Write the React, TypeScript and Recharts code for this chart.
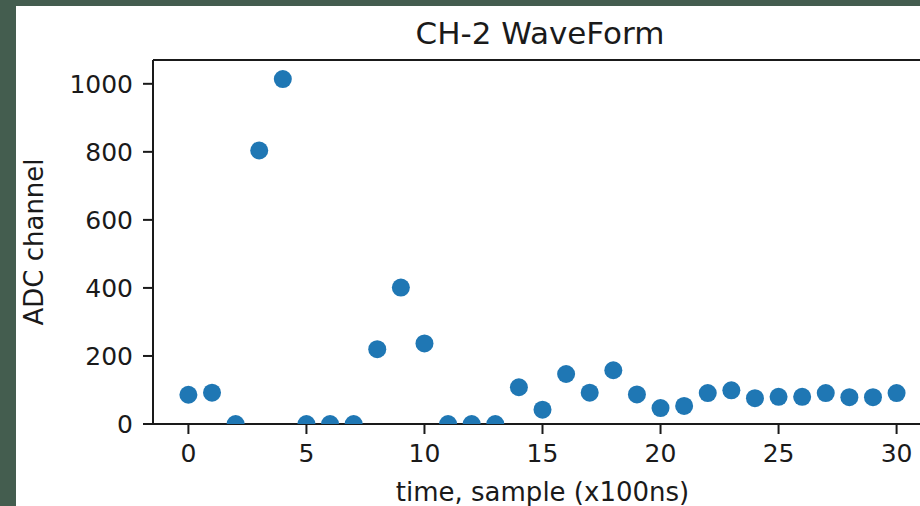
import { ScatterChart, Scatter, XAxis, YAxis, ReferenceLine } from 'recharts';

const samples = [
  0, 1, 2, 3, 4, 5, 6, 7, 8, 9, 10, 11, 12, 13, 14, 15,
  16, 17, 18, 19, 20, 21, 22, 23, 24, 25, 26, 27, 28, 29, 30,
];
const adcValues = [
  86, 92, 0, 804, 1014, 0, 0, 0, 220, 401, 237, 0, 0, 0, 108, 42,
  147, 92, 158, 87, 47, 53, 91, 99, 76, 80, 80, 91, 79, 79, 91,
];
const xTicks = [0, 5, 10, 15, 20, 25, 30];
const yTicks = [0, 200, 400, 600, 800, 1000];
const xDomain = [-1.5, 31.5];
const yDomain = [0, 1070];

const waveData = samples.map((t, i) => ({ t, adc: adcValues[i] }));

const font = "'DejaVu Sans', sans-serif";
const ink = '#1a1a1a';
const blue = '#1f77b4';

const Dot = (props: any) => <circle cx={props.cx} cy={props.cy} r={9} fill={blue} />;

export default function App() {
  return (
    <div
      style={{
        position: 'absolute',
        left: 0,
        top: 0,
        width: 920,
        height: 506,
        background: '#445d4f',
        overflow: 'hidden',
        fontFamily: font,
      }}
    >
      <div
        style={{
          position: 'absolute',
          left: 16,
          top: 6,
          width: 904,
          height: 500,
          background: '#fff',
        }}
      />
      {/* Title */}
      <div
        style={{
          position: 'absolute',
          left: 340,
          top: 18,
          width: 400,
          textAlign: 'center',
          fontSize: 31,
          lineHeight: '31px',
          color: ink,
        }}
      >
        CH-2 WaveForm
      </div>
      <div style={{ position: 'absolute', left: 0, top: 0 }}>
        <ScatterChart
          width={960}
          height={506}
          margin={{ top: 60, right: 28, bottom: 0, left: 13 }}
        >
          <XAxis
            type="number"
            dataKey="t"
            domain={xDomain}
            ticks={xTicks}
            allowDataOverflow
            height={82}
            axisLine={{ stroke: ink, strokeWidth: 2 }}
            tickLine={{ stroke: ink, strokeWidth: 2 }}
            tickSize={10}
            tickMargin={10}
            tick={{ fontSize: 25, fill: ink, fontFamily: font }}
            label={{
              value: 'time, sample (x100ns)',
              position: 'insideBottom',
              offset: 5,
              style: { fontSize: 26, fill: ink, fontFamily: font },
            }}
          />
          <YAxis
            type="number"
            dataKey="adc"
            domain={yDomain}
            ticks={yTicks}
            allowDataOverflow
            width={140}
            axisLine={{ stroke: ink, strokeWidth: 2 }}
            tickLine={{ stroke: ink, strokeWidth: 2 }}
            tickSize={10}
            tickMargin={10}
            tick={{ fontSize: 25, fill: ink, fontFamily: font }}
            label={{
              value: 'ADC channel',
              angle: -90,
              position: 'insideLeft',
              offset: 21,
              style: { fontSize: 26, fill: ink, fontFamily: font, textAnchor: 'middle' },
            }}
          />
          <ReferenceLine y={yDomain[1]} stroke={ink} strokeWidth={2} />
          <Scatter data={waveData} shape={Dot} isAnimationActive={false} />
        </ScatterChart>
      </div>
    </div>
  );
}
